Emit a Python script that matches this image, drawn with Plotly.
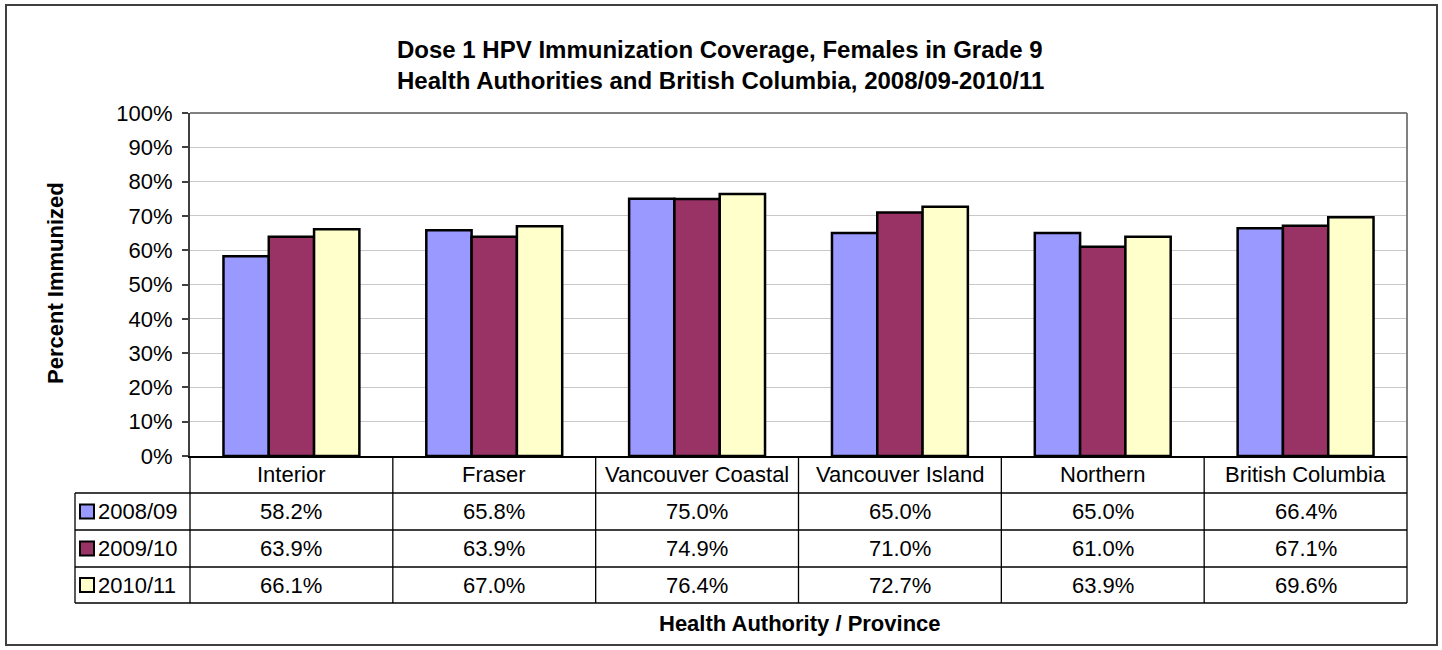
import plotly.graph_objects as go

categories = ["Interior", "Fraser", "Vancouver Coastal", "Vancouver Island", "Northern", "British Columbia"]
series_names = ["2008/09", "2009/10", "2010/11"]
v_2008_09 = [58.2, 65.8, 75.0, 65.0, 65.0, 66.4]
v_2009_10 = [63.9, 63.9, 74.9, 71.0, 61.0, 67.1]
v_2010_11 = [66.1, 67.0, 76.4, 72.7, 63.9, 69.6]
series_values = [v_2008_09, v_2009_10, v_2010_11]
colors = ["#9999FF", "#993366", "#FFFFCC"]
y_ticks = [0, 10, 20, 30, 40, 50, 60, 70, 80, 90, 100]
y_tick_labels = [f"{v}%" for v in y_ticks]

W, H = 1442, 650
FONT = "Arial, Liberation Sans, sans-serif"
FS = 22      # tick / table text
FS_AX = 22   # axis titles
FS_T = 24    # main title

def px(x):
    return x / W

def py(y):
    return 1 - y / H

# plot area in pixels
PL, PR, PT, PB = 190, 1407, 113, 456
ROW_Y = [456, 493, 530, 567, 603]
LEG_L = 75

fig = go.Figure()
for name, vals, col in zip(series_names, series_values, colors):
    fig.add_trace(go.Bar(
        x=categories, y=vals, name=name,
        marker=dict(color=col, line=dict(color="black", width=2.5)),
        showlegend=False, hoverinfo="x+y+name",
    ))

shapes = []
annotations = []

# outer border
shapes.append(dict(type="rect", xref="paper", yref="paper",
                   x0=px(6), x1=px(1437), y0=py(645), y1=py(5),
                   line=dict(color="#404040", width=2), fillcolor="rgba(0,0,0,0)", layer="below"))
# plot area top and right border
shapes.append(dict(type="line", xref="paper", yref="paper", x0=px(PL), x1=px(PR), y0=py(PT), y1=py(PT),
                   line=dict(color="#808080", width=2)))
shapes.append(dict(type="line", xref="paper", yref="paper", x0=px(PR), x1=px(PR), y0=py(PT), y1=py(PB),
                   line=dict(color="#808080", width=2)))

# table grid
ncat = len(categories)
cw = (PR - PL) / ncat
line_style = dict(color="black", width=1.3)
for yy in ROW_Y[1:]:
    shapes.append(dict(type="line", xref="paper", yref="paper", x0=px(LEG_L), x1=px(PR),
                       y0=py(yy), y1=py(yy), line=line_style))
for k in range(ncat + 1):
    xx = PL + k * cw
    shapes.append(dict(type="line", xref="paper", yref="paper", x0=px(xx), x1=px(xx),
                       y0=py(ROW_Y[0]), y1=py(ROW_Y[-1]), line=line_style))
shapes.append(dict(type="line", xref="paper", yref="paper", x0=px(LEG_L), x1=px(LEG_L),
                   y0=py(ROW_Y[1]), y1=py(ROW_Y[-1]), line=line_style))

# category header labels
for k, cat in enumerate(categories):
    cx = PL + (k + 0.5) * cw
    annotations.append(dict(xref="paper", yref="paper", x=px(cx), y=py((ROW_Y[0] + ROW_Y[1]) / 2),
                            text=cat, showarrow=False, xanchor="center", yanchor="middle",
                            font=dict(family=FONT, size=FS, color="black")))
# data rows
for r, (name, vals, col) in enumerate(zip(series_names, series_values, colors)):
    yc = (ROW_Y[r + 1] + ROW_Y[r + 2]) / 2
    shapes.append(dict(type="rect", xref="paper", yref="paper",
                       x0=px(80), x1=px(94), y0=py(yc + 7), y1=py(yc - 7),
                       fillcolor=col, line=dict(color="black", width=2)))
    annotations.append(dict(xref="paper", yref="paper", x=px(96), y=py(yc), text=name,
                            showarrow=False, xanchor="left", yanchor="middle",
                            font=dict(family=FONT, size=FS, color="black")))
    for k, v in enumerate(vals):
        cx = PL + (k + 0.5) * cw
        annotations.append(dict(xref="paper", yref="paper", x=px(cx), y=py(yc),
                                text=f"{v:.1f}%", showarrow=False, xanchor="center", yanchor="middle",
                                font=dict(family=FONT, size=FS, color="black")))

# titles
annotations.append(dict(xref="paper", yref="paper", x=px(720), y=py(49),
                        text="<b>Dose 1 HPV Immunization Coverage, Females in Grade 9</b>",
                        showarrow=False, xanchor="center", yanchor="middle",
                        font=dict(family=FONT, size=FS_T, color="black")))
annotations.append(dict(xref="paper", yref="paper", x=px(720), y=py(80),
                        text="<b>Health Authorities and British Columbia, 2008/09-2010/11</b>",
                        showarrow=False, xanchor="center", yanchor="middle",
                        font=dict(family=FONT, size=FS_T, color="black")))
annotations.append(dict(xref="paper", yref="paper", x=px(800), y=py(623),
                        text="<b>Health Authority / Province</b>",
                        showarrow=False, xanchor="center", yanchor="middle",
                        font=dict(family=FONT, size=FS_AX, color="black")))
annotations.append(dict(xref="paper", yref="paper", x=px(55), y=py(283),
                        text="<b>Percent Immunized</b>", textangle=-90,
                        showarrow=False, xanchor="center", yanchor="middle",
                        font=dict(family=FONT, size=FS_AX, color="black")))

fig.update_layout(
    width=W, height=H, autosize=False,
    margin=dict(l=0, r=0, t=0, b=0, pad=0, autoexpand=False),
    paper_bgcolor="white", plot_bgcolor="white",
    showlegend=False,
    barmode="group", bargap=0.33, bargroupgap=0,
    font=dict(family=FONT, size=FS, color="black"),
    shapes=shapes, annotations=annotations,
    xaxis=dict(domain=[px(PL), px(PR)], range=[-0.5, ncat - 0.5], showticklabels=False,
               showgrid=False, zeroline=False, showline=True, linecolor="black", linewidth=2,
               ticks="", fixedrange=True, automargin=False),
    yaxis=dict(domain=[py(PB), py(PT)], range=[0, 100], tickmode="array",
               tickvals=y_ticks, ticktext=y_tick_labels,
               showgrid=True, gridcolor="#c8c8c8", gridwidth=1, zeroline=False,
               showline=True, linecolor="#404040", linewidth=2, ticks="outside", ticklen=6,
               tickcolor="#404040", tickwidth=2, ticklabelstandoff=5,
               tickfont=dict(family=FONT, size=FS, color="black"),
               fixedrange=True, automargin=False),
)

fig.write_html(
    "out.html",
    config={"displayModeBar": False},
    post_script=(
        "document.body.style.margin='0';document.body.style.padding='0';"
        "document.body.style.overflow='hidden';"
    ),
)
